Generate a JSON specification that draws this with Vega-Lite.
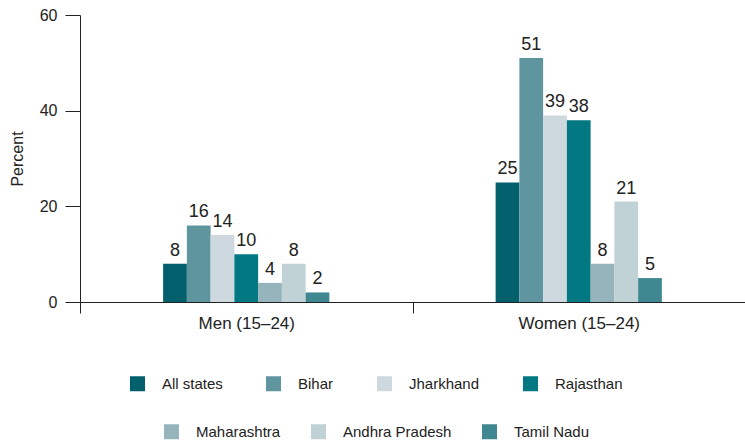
{
  "$schema": "https://vega.github.io/schema/vega-lite/v6.json",
  "width": 665,
  "height": 287,
  "autosize": {"type": "none"},
  "padding": {"left": 80, "top": 15, "right": 0, "bottom": 142},
  "background": "white",
  "config": {
    "view": {"stroke": null},
    "font": "Liberation Sans",
    "axis": {"domainColor": "#222222", "tickColor": "#222222", "labelColor": "#222222", "titleColor": "#222222", "grid": false, "labelFont": "Liberation Sans", "titleFont": "Liberation Sans"},
    "legend": {"labelFont": "Liberation Sans", "labelColor": "#222222", "padding": 0}
  },
  "data": {"values": [
    {"group": "Men (15–24)", "state": "All states", "row": 1, "value": 8},
    {"group": "Men (15–24)", "state": "Bihar", "row": 1, "value": 16},
    {"group": "Men (15–24)", "state": "Jharkhand", "row": 1, "value": 14},
    {"group": "Men (15–24)", "state": "Rajasthan", "row": 1, "value": 10},
    {"group": "Men (15–24)", "state": "Maharashtra", "row": 2, "value": 4},
    {"group": "Men (15–24)", "state": "Andhra Pradesh", "row": 2, "value": 8},
    {"group": "Men (15–24)", "state": "Tamil Nadu", "row": 2, "value": 2},
    {"group": "Women (15–24)", "state": "All states", "row": 1, "value": 25},
    {"group": "Women (15–24)", "state": "Bihar", "row": 1, "value": 51},
    {"group": "Women (15–24)", "state": "Jharkhand", "row": 1, "value": 39},
    {"group": "Women (15–24)", "state": "Rajasthan", "row": 1, "value": 38},
    {"group": "Women (15–24)", "state": "Maharashtra", "row": 2, "value": 8},
    {"group": "Women (15–24)", "state": "Andhra Pradesh", "row": 2, "value": 21},
    {"group": "Women (15–24)", "state": "Tamil Nadu", "row": 2, "value": 5}
  ]},
  "encoding": {
    "x": {
      "field": "group", "type": "nominal",
      "scale": {"paddingInner": 0, "paddingOuter": 0},
      "axis": {"title": null, "labelAngle": 0, "labelFontSize": 17, "tickBand": "extent", "tickSize": 11, "labelPadding": 2, "domainWidth": 1, "tickWidth": 1}
    },
    "xOffset": {
      "field": "state", "type": "nominal",
      "scale": {"domain": ["_p1", "_p2", "_p3", "All states", "Bihar", "Jharkhand", "Rajasthan", "Maharashtra", "Andhra Pradesh", "Tamil Nadu", "_p4", "_p5", "_p6"], "paddingInner": 0, "paddingOuter": 0.5}
    },
    "y": {
      "field": "value", "type": "quantitative",
      "scale": {"domain": [0, 60]},
      "axis": {"title": "Percent", "values": [0, 20, 40, 60], "labelFontSize": 16, "titleFontSize": 16, "titleFontWeight": "normal", "tickSize": 15, "labelPadding": 8, "titlePadding": 14}
    }
  },
  "layer": [
    {
      "transform": [{"filter": "datum.row == 1"}],
      "mark": {"type": "bar"},
      "encoding": {
        "color": {
          "field": "state", "type": "nominal",
          "scale": {"domain": ["All states", "Bihar", "Jharkhand", "Rajasthan"], "range": ["#02606c", "#5f959f", "#cdd9de", "#027882"]},
          "legend": {"title": null, "orient": "none", "direction": "horizontal", "legendX": 50, "legendY": 361, "symbolType": "square", "symbolSize": 225, "symbolStrokeWidth": 0, "labelFontSize": 15, "labelOffset": 17, "columnPadding": 43}
        }
      }
    },
    {
      "transform": [{"filter": "datum.row == 2"}],
      "mark": {"type": "bar"},
      "encoding": {
        "fill": {
          "field": "state", "type": "nominal",
          "scale": {"domain": ["Maharashtra", "Andhra Pradesh", "Tamil Nadu"], "range": ["#95b4bc", "#c0d2d6", "#3f8891"]},
          "legend": {"title": null, "orient": "none", "direction": "horizontal", "legendX": 84, "legendY": 409, "symbolType": "square", "symbolSize": 225, "symbolStrokeWidth": 0, "labelFontSize": 15, "labelOffset": 17, "columnPadding": 30}
        }
      }
    },
    {
      "mark": {"type": "text", "baseline": "alphabetic", "dy": -8, "fontSize": 18, "color": "#222222"},
      "encoding": {"text": {"field": "value", "type": "quantitative"}}
    }
  ]
}
